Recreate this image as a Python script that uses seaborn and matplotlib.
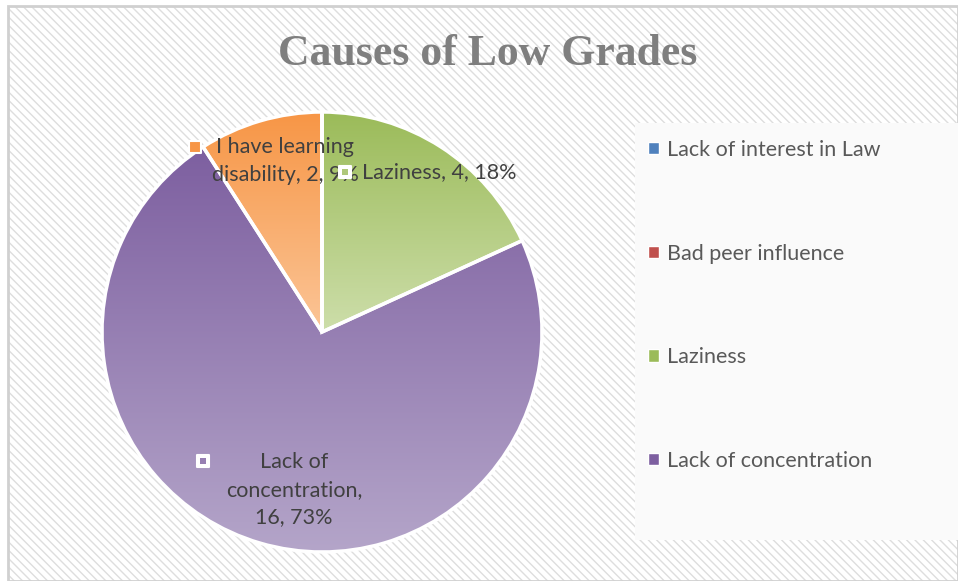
import numpy as np
import matplotlib
matplotlib.use("Agg")
import matplotlib.pyplot as plt
import matplotlib.patches as mpatches
from matplotlib.colors import LinearSegmentedColormap
import seaborn as sns

# data
categories = ["Lack of interest in Law", "Bad peer influence", "Laziness",
              "Lack of concentration", "I have learning disability"]
counts = [0, 0, 4, 16, 2]
percents = ["0%", "0%", "18%", "73%", "9%"]
# gradient colours per slice (top, bottom)
top_colors = ["#4f81bd", "#c0504d", "#9bbb59", "#7d5fa0", "#f79646"]
bottom_colors = ["#a7c0de", "#dfa7a6", "#cddeaa", "#b4a5c9", "#fbc597"]
legend_n = 4  # excel legend only shows the first four entries

sns.set_theme(style="white")
plt.rcParams["font.family"] = ["Lato", "DejaVu Sans"]
plt.rcParams["hatch.linewidth"] = 1.0

W, H = 958, 581
fig = plt.figure(figsize=(W / 100, H / 100), dpi=100)
fig.patch.set_facecolor("white")

# chart area background with diagonal hatch
bg = mpatches.Rectangle((8 / W, 0), 1 - 8 / W, 1 - 6 / H, transform=fig.transFigure,
                        facecolor="white", edgecolor="#dedede", hatch="\\\\\\\\",
                        linewidth=0, zorder=0)
fig.patches.append(bg)
border = mpatches.Rectangle((8 / W, 0), 1 - 8 / W, 1 - 6 / H, transform=fig.transFigure,
                            facecolor="none", edgecolor="#d0d0d0", linewidth=2, zorder=0.1)
fig.patches.append(border)

# legend area
leg_bg = mpatches.Rectangle((635 / W, 1 - 540 / H), (W - 635) / W, (540 - 123) / H,
                            transform=fig.transFigure, facecolor="#fafafa",
                            edgecolor="none", zorder=0.2)
fig.patches.append(leg_bg)

# pie axes: centre (322, 332) px, radius 220 px
cx, cy, r = 322, 332, 220
ax = fig.add_axes([(cx - r) / W, (H - cy - r) / H, 2 * r / W, 2 * r / H])
ax.set_zorder(2)
ax.patch.set_visible(False)

wedges, _ = ax.pie(counts, startangle=90, counterclock=False, radius=1,
                   wedgeprops=dict(edgecolor="white", linewidth=2.5))

for w, c0, c1 in zip(wedges, top_colors, bottom_colors):
    if w.theta2 - w.theta1 < 1e-6:
        continue
    th = np.radians(np.linspace(w.theta1, w.theta2, 200))
    ys = np.concatenate([[0], np.sin(th)])
    y0, y1 = ys.min(), ys.max()
    cmap = LinearSegmentedColormap.from_list("g", [c1, c0])
    grad = np.linspace(0, 1, 256).reshape(-1, 1)
    im = ax.imshow(grad, cmap=cmap, extent=[-1, 1, y0, y1], origin="lower",
                   aspect="auto", zorder=0.5, interpolation="bilinear")
    im.set_clip_path(w)
    w.set_facecolor("none")
    w.set_zorder(1)

ax.set_xlim(-1, 1)
ax.set_ylim(-1, 1)
ax.axis("off")


def px(x, y):
    return ((x - cx) / r, (cy - y) / r)


# data labels (excel style, with small key squares)
lab_color = "#404040"
label_font = 15.5
labels = {
    4: ("I have learning\ndisability, {}, {}", (285, 161), "center", (195, 147)),
    2: ("Laziness, {}, {}", (362, 172), "left", (345, 172)),
    3: ("Lack of\nconcentration,\n{}, {}", (294, 490), "center", (203, 461)),
}
for i, (fmt, pos, ha, key) in labels.items():
    txt = fmt.format(counts[i], percents[i])
    ax.text(*px(*pos), txt, ha=ha, va="center", fontsize=label_font,
            color=lab_color, linespacing=1.47, zorder=3)
    kx, ky = px(*key)
    ax.scatter([kx], [ky], marker="s", s=75, facecolor=top_colors[i] if i == 4 else "white",
               edgecolor="white", linewidth=1.5, zorder=4, clip_on=False)
    if i != 4:
        ax.scatter([kx], [ky], marker="s", s=24, facecolor=top_colors[i],
                   edgecolor="none", zorder=5, clip_on=False, alpha=0.8)

# title
fig.text(488 / W, 1 - 54 / H, "Causes of Low Grades", ha="center", va="center",
         fontsize=31.5, fontweight="bold", color="#7f7f7f", family="Liberation Serif")

# legend
handles = [mpatches.Patch(facecolor=c, edgecolor="white", linewidth=1)
           for c in top_colors[:legend_n]]
fig.legend(handles, categories[:legend_n], loc="upper left",
           bbox_to_anchor=(648 / W, 1 - 140 / H), frameon=False,
           fontsize=15.5, labelcolor="#595959", handlelength=0.5, handleheight=0.5,
           handletextpad=0.4, labelspacing=3.88, borderpad=0, borderaxespad=0)

fig.savefig("out.png", dpi=100)
